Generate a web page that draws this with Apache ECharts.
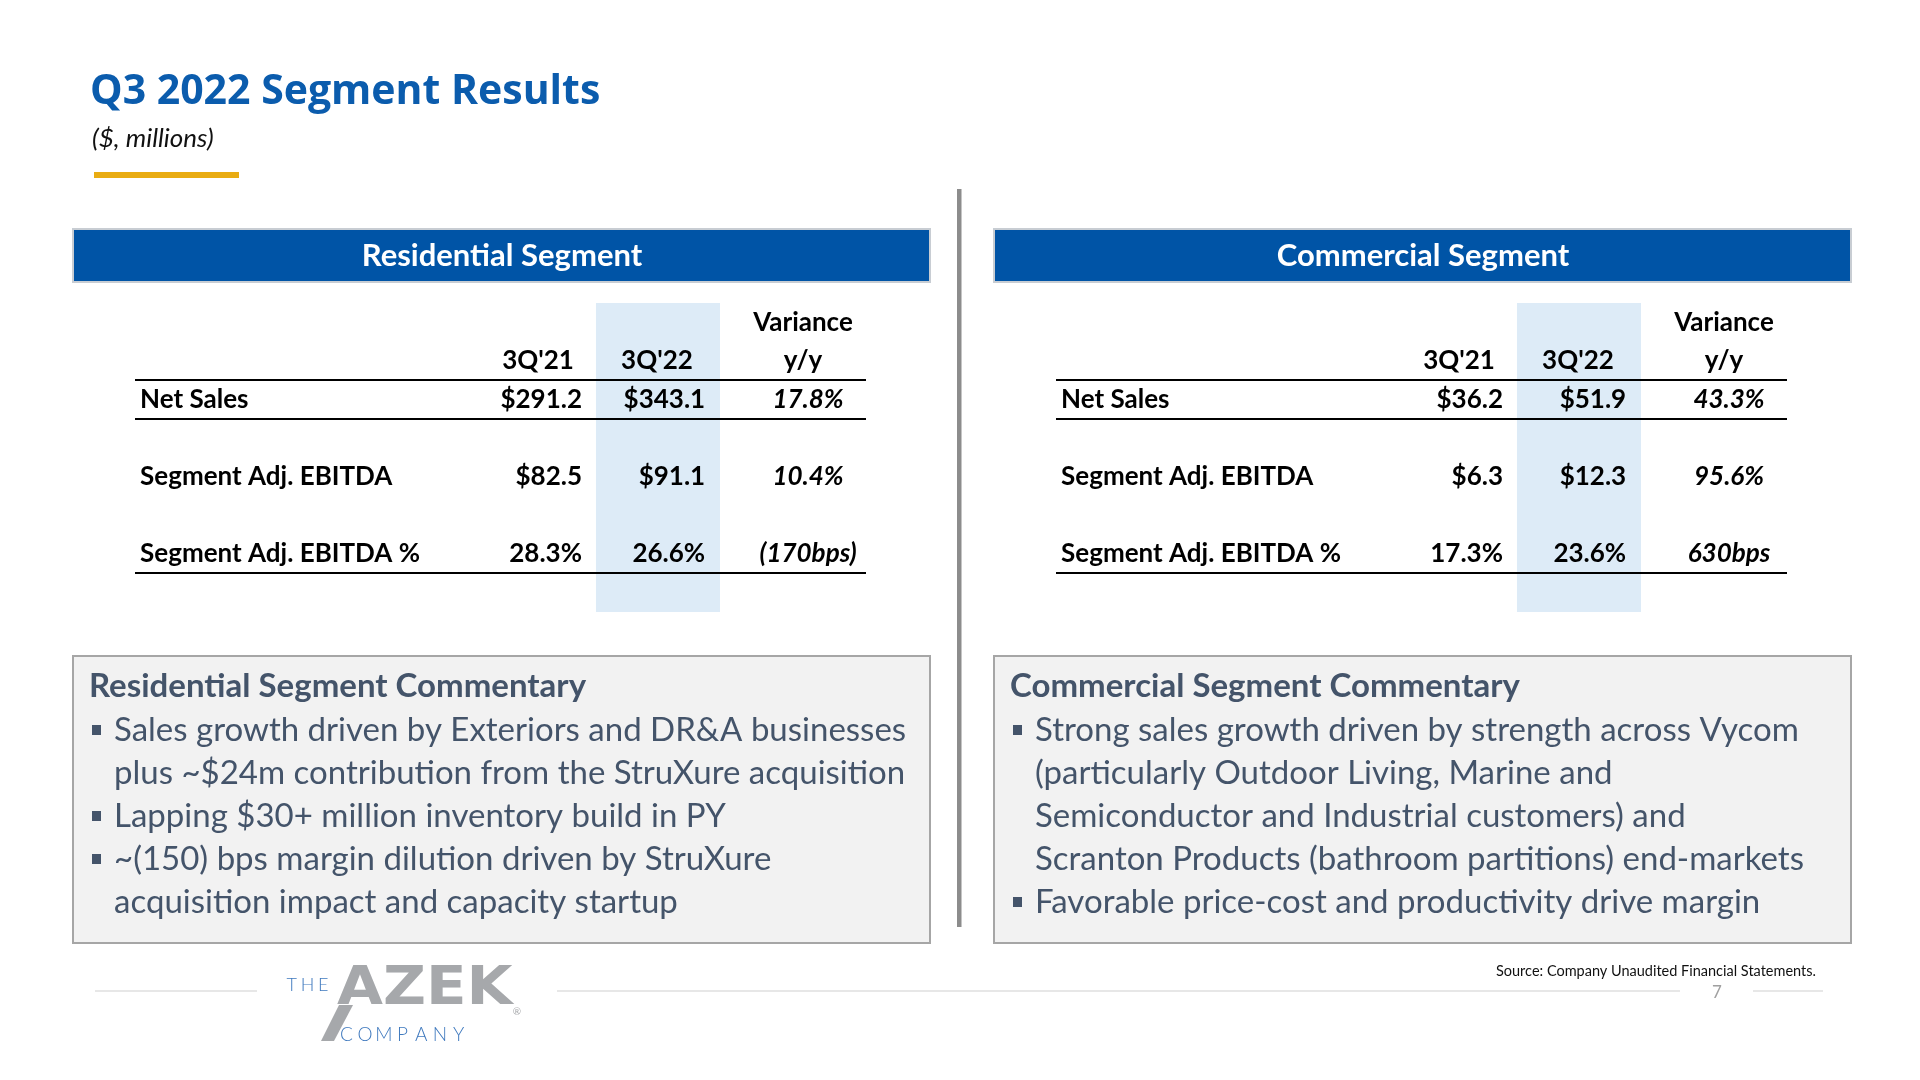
<!DOCTYPE html>
<html><head><meta charset="utf-8">
<script src="https://cdn.jsdelivr.net/npm/echarts@6/dist/echarts.min.js"></script>
<style>html,body{margin:0;padding:0;background:#fff}#c{width:1920px;height:1080px}</style>
</head><body><div id="c"></div>
<script>
// ---------------- DATA ----------------
const pageTitle = 'Q3 2022 Segment Results';
const pageSubtitle = '($, millions)';
const columnHeaders = ["3Q'21", "3Q'22"];
const varianceHeader = ['Variance', 'y/y'];
const rowLabels = ['Net Sales', 'Segment Adj. EBITDA', 'Segment Adj. EBITDA %'];
const rowUnits = ['$', '$', '%'];
const varianceUnits = ['%', '%', 'bps'];

const residentialTitle = 'Residential Segment';
const residential3Q21 = [291.2, 82.5, 28.3];
const residential3Q22 = [343.1, 91.1, 26.6];
const residentialVariance = [17.8, 10.4, -170];

const commercialTitle = 'Commercial Segment';
const commercial3Q21 = [36.2, 6.3, 17.3];
const commercial3Q22 = [51.9, 12.3, 23.6];
const commercialVariance = [43.3, 95.6, 630];

const residentialCommentaryTitle = 'Residential Segment Commentary';
const residentialBullets = [
  ['Sales growth driven by Exteriors and DR&A businesses', 'plus ~$24m contribution from the StruXure acquisition'],
  ['Lapping $30+ million inventory build in PY'],
  ['~(150) bps margin dilution driven by StruXure', 'acquisition impact and capacity startup']
];
const commercialCommentaryTitle = 'Commercial Segment Commentary';
const commercialBullets = [
  ['Strong sales growth driven by strength across Vycom', '(particularly Outdoor Living, Marine and', 'Semiconductor and Industrial customers) and', 'Scranton Products (bathroom partitions) end-markets'],
  ['Favorable price-cost and productivity drive margin']
];
const sourceNote = 'Source: Company Unaudited Financial Statements.';
const pageNumber = '7';
const logoWords = ['THE', 'AZEK', 'COMPANY'];

// ---------------- FORMATTING ----------------
function fmtValue(v, unit) { return unit === '$' ? '$' + v.toFixed(1) : v.toFixed(1) + '%'; }
function fmtVariance(v, unit) {
  if (unit === 'bps') return v < 0 ? '(' + Math.abs(v) + 'bps)' : v + 'bps';
  return v < 0 ? '(' + Math.abs(v).toFixed(1) + '%)' : v.toFixed(1) + '%';
}

// ---------------- LAYOUT / STYLE ----------------
const BLUE = '#0054A6';
const SLATE = '#44546A';
const FONT = 'Lato';
const PANEL_DX = 921;
const rowSlots = ['h0', 'h1', 'r0', 'g0', 'r1', 'g1', 'r2', 'g2'];
const dataRowSlot = [2, 4, 6];
const ruleSlots = [1, 2, 6];
const colAnchor = {
  label: { x: 0.007, align: 'left' },
  c21: { x: 0.6115, align: 'right' },
  c22: { x: 0.780, align: 'right' },
  c21h: { x: 0.5513, align: 'center' },
  c22h: { x: 0.714, align: 'center' },
  vh: { x: 0.9138, align: 'center' },
  v: { x: 0.9207, align: 'center' }
};
const hlRange = [0.6306, 0.8003];

function tableCells(v21, v22, vv) {
  const cells = [];
  cells.push({ col: 'vh', row: 0, text: varianceHeader[0] });
  cells.push({ col: 'c21h', row: 1, text: columnHeaders[0] });
  cells.push({ col: 'c22h', row: 1, text: columnHeaders[1] });
  cells.push({ col: 'vh', row: 1, text: varianceHeader[1] });
  rowLabels.forEach((lab, i) => {
    const r = dataRowSlot[i];
    cells.push({ col: 'label', row: r, text: lab });
    cells.push({ col: 'c21', row: r, text: fmtValue(v21[i], rowUnits[i]) });
    cells.push({ col: 'c22', row: r, text: fmtValue(v22[i], rowUnits[i]) });
    cells.push({ col: 'v', row: r, text: fmtVariance(vv[i], varianceUnits[i]), italic: true });
  });
  return cells;
}

const tables = [
  { cells: tableCells(residential3Q21, residential3Q22, residentialVariance) },
  { cells: tableCells(commercial3Q21, commercial3Q22, commercialVariance) }
];

const grids = [], xAxes = [], yAxes = [], series = [];
tables.forEach((t, ti) => {
  grids.push({ left: 135 + ti * PANEL_DX, top: 303, width: 731, height: 309 });
  xAxes.push({ gridIndex: ti, type: 'value', min: 0, max: 1, show: false });
  yAxes.push({ gridIndex: ti, type: 'category', data: rowSlots, inverse: true, show: false });
  // highlight column
  series.push({
    type: 'custom', xAxisIndex: ti, yAxisIndex: ti, z: 1, silent: true,
    data: [[hlRange[0], 0]],
    renderItem: (params, api) => {
      const bh = api.size([0, 1])[1];
      const p0 = api.coord([hlRange[0], 0]);
      const p1 = api.coord([hlRange[1], rowSlots.length - 1]);
      return { type: 'rect', shape: { x: p0[0], y: p0[1] - bh / 2, width: p1[0] - p0[0], height: p1[1] - p0[1] + bh }, style: { fill: '#DDEBF7' } };
    }
  });
  // rules
  series.push({
    type: 'custom', xAxisIndex: ti, yAxisIndex: ti, z: 3, silent: true,
    data: ruleSlots.map(r => [0, r]),
    renderItem: (params, api) => {
      const bh = api.size([0, 1])[1];
      const a = api.coord([0, api.value(1)]);
      const b = api.coord([1, api.value(1)]);
      const y = Math.round(a[1] + bh / 2);
      return { type: 'line', shape: { x1: a[0], y1: y, x2: b[0], y2: y }, style: { stroke: '#000', lineWidth: 2.2 } };
    }
  });
  // cells
  series.push({
    type: 'custom', xAxisIndex: ti, yAxisIndex: ti, z: 4, silent: true,
    data: t.cells.map(c => [colAnchor[c.col].x, c.row]),
    renderItem: (params, api) => {
      const c = t.cells[params.dataIndex];
      const p = api.coord([api.value(0), api.value(1)]);
      return {
        type: 'text',
        style: {
          text: c.text, x: p[0], y: p[1], align: colAnchor[c.col].align, verticalAlign: 'middle',
          fontFamily: FONT, fontSize: 26, fontWeight: 'bold', fontStyle: c.italic ? 'italic' : 'normal', fill: '#000'
        }
      };
    }
  });
});

// ---------------- GRAPHIC (slide furniture) ----------------
const graphic = [];
graphic.push({ type: 'text', style: { text: pageTitle, x: 90, y: 92, verticalAlign: 'middle', fontFamily: 'Open Sans', fontWeight: 'bold', fontSize: 41, fill: '#0B5CAD' } });
graphic.push({ type: 'text', style: { text: pageSubtitle, x: 92, y: 139, verticalAlign: 'middle', fontFamily: FONT, fontStyle: 'italic', fontSize: 26, fill: '#111' } });
graphic.push({ type: 'rect', shape: { x: 94, y: 172, width: 145, height: 6 }, style: { fill: '#E9AC12' } });
graphic.push({ type: 'rect', shape: { x: 957, y: 189, width: 4.5, height: 738 }, style: { fill: '#8C8C8C' } });

[[residentialTitle, residentialCommentaryTitle, residentialBullets], [commercialTitle, commercialCommentaryTitle, commercialBullets]].forEach((p, pi) => {
  const dx = pi * PANEL_DX;
  // header bar
  graphic.push({ type: 'rect', shape: { x: 73 + dx, y: 229, width: 857, height: 53 }, style: { fill: BLUE, stroke: '#C8CDD3', lineWidth: 2 } });
  graphic.push({ type: 'text', style: { text: p[0], x: 502 + dx, y: 256, align: 'center', verticalAlign: 'middle', fontFamily: FONT, fontWeight: 'bold', fontSize: 31, fill: '#fff' } });
  // commentary box
  graphic.push({ type: 'rect', shape: { x: 73 + dx, y: 656, width: 857, height: 287 }, style: { fill: '#F2F2F2', stroke: '#A6A6A6', lineWidth: 2 } });
  graphic.push({ type: 'text', style: { text: p[1], x: 89 + dx, y: 686, verticalAlign: 'middle', fontFamily: FONT, fontWeight: 'bold', fontSize: 33, fill: SLATE } });
  let line = 0;
  p[2].forEach(b => {
    const y0 = 730 + line * 43;
    graphic.push({ type: 'rect', shape: { x: 92 + dx, y: y0 - 5, width: 9, height: 10 }, style: { fill: SLATE } });
    b.forEach(txt => {
      graphic.push({ type: 'text', style: { text: txt, x: 114 + dx, y: 730 + line * 43, verticalAlign: 'middle', fontFamily: FONT, fontSize: 33, fill: SLATE } });
      line++;
    });
  });
});

// footer
const FOOT_LINE = '#D0D0D0';
graphic.push({ type: 'line', shape: { x1: 95, y1: 991, x2: 257, y2: 991 }, style: { stroke: FOOT_LINE, lineWidth: 1.2 } });
graphic.push({ type: 'line', shape: { x1: 557, y1: 991, x2: 1680, y2: 991 }, style: { stroke: FOOT_LINE, lineWidth: 1.2 } });
graphic.push({ type: 'line', shape: { x1: 1753, y1: 991, x2: 1823, y2: 991 }, style: { stroke: FOOT_LINE, lineWidth: 1.2 } });
graphic.push({ type: 'text', style: { text: pageNumber, x: 1717, y: 993, align: 'center', verticalAlign: 'middle', fontFamily: FONT, fontSize: 17, fill: '#A0A0A0' } });
graphic.push({ type: 'text', style: { text: sourceNote, x: 1816, y: 971, align: 'right', verticalAlign: 'middle', fontFamily: FONT, fontSize: 14.5, fill: '#111' } });

// logo
const LOGO_GRAY = '#A6A8AB';
function spaced(word, x0, x1, y, size, color, weight) {
  const step = (x1 - x0) / word.length;
  word.split('').forEach((ch, i) => {
    graphic.push({ type: 'text', style: { text: ch, x: x0 + step * (i + 0.5), y: y, align: 'center', verticalAlign: 'middle', fontFamily: FONT, fontWeight: weight, fontSize: size, fill: color } });
  });
}
spaced(logoWords[0], 284, 331, 985, 18, '#3F79BE', 300);
spaced(logoWords[2], 337, 468, 1035, 19, '#3F79BE', 300);
// tail of the stylised "A" running below the baseline
graphic.push({ type: 'polygon', shape: { points: [[339, 1005], [353, 1005], [334, 1041], [321, 1041]] }, style: { fill: LOGO_GRAY } });
graphic.push({ type: 'text', x: 337, y: 990, scaleX: 1.1, style: { text: logoWords[1], x: 0, y: 0, verticalAlign: 'middle', fontFamily: 'DejaVu Sans', fontWeight: 'bold', fontSize: 54, fill: LOGO_GRAY } });
graphic.push({ type: 'text', style: { text: '®', x: 517, y: 1012, align: 'center', verticalAlign: 'middle', fontFamily: FONT, fontSize: 10, fill: LOGO_GRAY } });

const chart = echarts.init(document.getElementById('c'), null, { renderer: 'canvas' });
chart.setOption({
  backgroundColor: '#fff',
  animation: false,
  grid: grids, xAxis: xAxes, yAxis: yAxes, series: series,
  graphic: graphic
});
</script></body></html>
